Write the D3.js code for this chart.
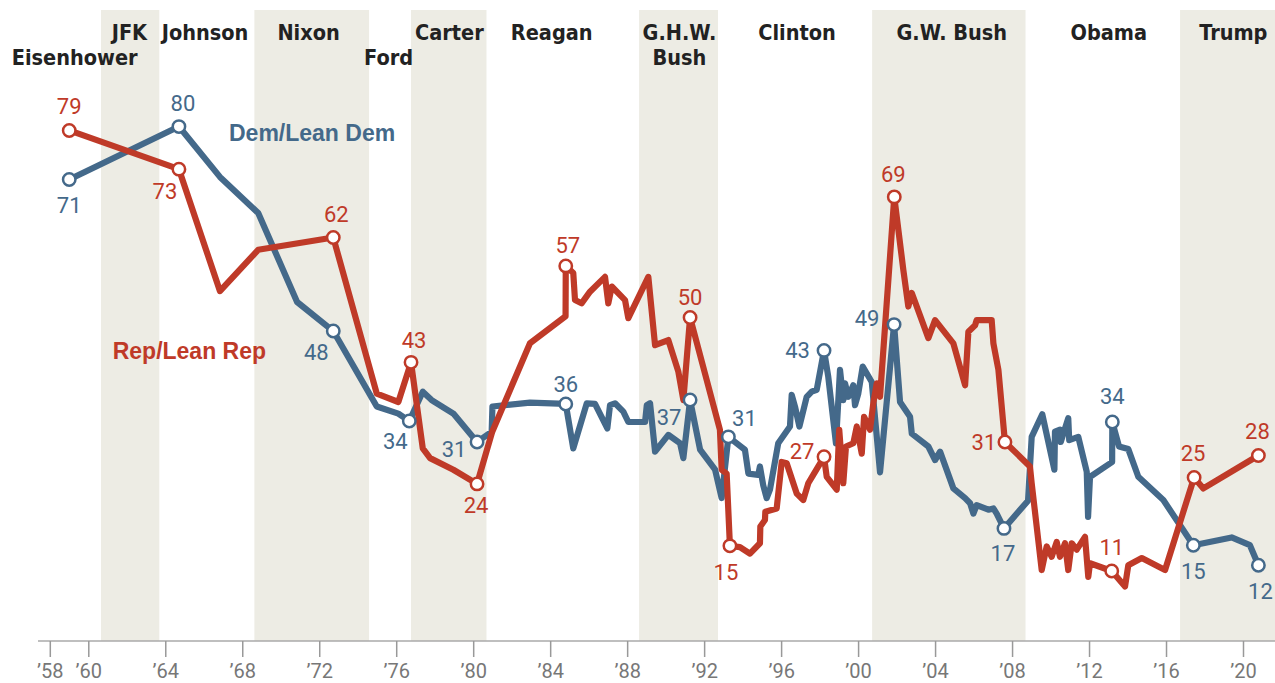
<!DOCTYPE html>
<html><head><meta charset="utf-8">
<script src="https://cdn.jsdelivr.net/npm/d3@7"></script>
<style>body{margin:0;background:#fff}svg{display:block}</style>
</head><body><svg id="c" width="1275" height="683"></svg>
<script>
// ---------- data ----------
const demYear=[1959.01,1964.71,1966.84,1968.83,1970.85,1972.73,1974.99,1976.11,1976.68,1977.38,1977.84,1978.97,1980.2,1980.96,1981.0,1982.95,1984.81,1985.2,1985.9,1986.33,1986.97,1987.11,1987.37,1987.8,1988.06,1988.93,1989.02,1989.19,1989.45,1990.14,1990.75,1990.92,1991.27,1991.79,1992.57,1992.91,1993.26,1994.12,1994.30,1994.81,1994.90,1995.07,1995.25,1995.42,1995.85,1996.46,1996.55,1996.72,1996.95,1997.33,1997.59,1997.85,1998.23,1998.45,1998.85,1999.06,1999.23,1999.32,1999.49,1999.75,1999.84,2000.01,2000.24,2000.71,2001.14,2001.87,2002.18,2002.70,2002.79,2003.65,2004.0,2004.26,2004.95,2005.56,2005.82,2005.99,2006.16,2006.77,2007.03,2007.20,2007.58,2008.83,2009.02,2009.57,2010.20,2010.23,2010.49,2010.53,2010.92,2010.97,2011.44,2011.88,2011.95,2012.05,2013.2,2013.21,2013.56,2014.04,2014.56,2015.86,2017.42,2017.94,2019.41,2020.36,2020.80];
const demValue=[71.4,79.6,71.8,66.2,52.4,47.9,36.2,35.1,33.95,38.5,37.2,35.1,30.7,32.3,36.2,36.8,36.6,29.7,36.7,36.6,32.8,36.4,36.7,35.4,33.8,33.8,36.4,36.7,29.2,31.8,30.5,28.2,37.2,29.5,26.4,22.0,31.5,29.5,25.8,25.6,26.9,24.0,22.0,23.3,30.5,33.1,38.0,36.2,33.1,37.7,38.5,38.8,44.9,40.8,30.5,41.9,37.2,39.8,37.7,39.5,36.4,38.2,42.4,40.0,26.0,48.9,36.9,34.6,32.0,30.0,27.9,29.2,23.5,22.0,21.2,19.6,20.9,20.2,20.4,19.6,17.3,21.6,31.5,35.0,26.4,32.3,32.6,30.7,34.4,31.0,31.5,26.1,19.1,25.3,27.6,33.8,30.0,29.6,25.3,21.7,14.7,15.0,15.9,14.7,11.6];

const repYear=[1959.01,1964.71,1966.84,1968.83,1972.73,1974.99,1976.11,1976.77,1977.38,1977.76,1978.97,1980.2,1980.99,1982.95,1984.8,1984.81,1985.2,1985.29,1985.63,1986.07,1986.85,1987.02,1987.2,1987.89,1988.06,1989.1,1989.45,1990.14,1990.66,1990.92,1991.27,1992.82,1992.91,1993.17,1993.34,1993.86,1994.38,1994.9,1994.92,1995.16,1995.18,1995.77,1996.03,1996.29,1996.81,1997.15,1997.41,1997.67,1998.23,1998.37,1998.89,1999.02,1999.23,1999.37,1999.75,1999.93,2000.19,2000.31,2000.62,2000.79,2000.97,2001.14,2001.88,2002.35,2002.61,2002.79,2003.65,2004.0,2004.95,2005.56,2005.73,2006.08,2006.16,2006.94,2007.03,2007.29,2007.63,2008.93,2009.02,2009.54,2009.8,2010.06,2010.32,2010.49,2010.75,2010.92,2011.1,2011.36,2011.79,2011.96,2012.05,2013.18,2013.87,2014.04,2014.74,2015.95,2017.46,2017.94,2020.8];
const repValue=[79.0,73.0,54.1,60.5,62.4,38.2,36.9,43.05,29.7,28.2,26.4,24.2,32.3,46.0,50.2,58.0,56.9,52.7,52.2,54.0,56.3,52.2,54.8,52.7,49.9,56.3,45.7,46.5,41.6,37.2,50.0,32.6,26.4,25.8,14.6,14.4,13.4,15.0,17.6,18.6,19.9,20.4,27.6,27.4,22.7,21.7,24.3,25.6,28.4,25.3,23.3,32.6,24.3,30.0,30.5,33.1,28.9,34.6,32.6,36.7,39.8,37.7,68.7,57.4,51.7,53.8,46.8,49.6,46.0,39.5,47.8,48.8,49.6,49.6,46.0,41.9,30.7,26.9,24.3,10.85,14.5,12.9,15.2,12.9,15.0,10.85,15.0,14.0,16.0,9.8,11.9,10.7,8.3,11.6,12.7,10.85,25.2,23.5,28.6];

// labelled points (year of marker, label text)
const demMarkYear=[1959.01,1964.71,1972.73,1976.68,1980.2,1984.81,1991.27,1993.26,1998.23,2001.87,2007.58,2013.21,2017.42,2020.80];
const demMarkText=["71","80","48","34","31","36","37","31","43","49","17","34","15","12"];
const repMarkYear=[1959.01,1964.71,1972.73,1976.77,1980.2,1984.81,1991.27,1993.34,1998.23,2001.88,2007.63,2013.18,2017.46,2020.8];
const repMarkText=["79","73","62","43","24","57","50","15","27","69","31","11","25","28"];

const presNames=["Eisenhower","JFK","Johnson","Nixon","Ford","Carter","Reagan","G.H.W.|Bush","Clinton","G.W. Bush","Obama","Trump"];
const presStart=[1955.0,1960.66,1963.69,1968.63,1974.59,1976.77,1980.69,1988.62,1992.72,2000.73,2008.70,2016.73];
const presEnd  =[1960.66,1963.69,1968.63,1974.59,1976.77,1980.69,1988.62,1992.72,2000.73,2008.70,2016.73,2021.7];
const presShaded=[false,true,false,true,false,true,false,true,false,true,false,true];

const tickYears=[1958,1960,1964,1968,1972,1976,1980,1984,1988,1992,1996,2000,2004,2008,2012,2016,2020];
const tickLabels=["’58","’60","’64","’68","’72","’76","’80","’84","’88","’92","’96","’00","’04","’08","’12","’16","’20"];

const seriesNames=["Dem/Lean Dem","Rep/Lean Rep"];

// ---------- layout / style ----------
const W=1275,H=683;
const BLUE="#44698a", RED="#bf3a28", BAND="#edece4";
const presLabelX=[74.7,129.4,205,308.6,388.6,449.4,551.7,679.4,797,951.8,1108.8,1233.4];
const presLabelRow=[2,1,1,1,2,1,1,1,1,1,1,1];
const demOff=[[0,26],[4,-24],[-17,21],[-14,20.5],[-23,7.5],[0,-20],[-21,17.5],[16,-19],[-26.5,0],[-27,-7],[-1,25],[0,-26],[0,26],[2,25.5]];
const repOff=[[0,-24],[-14,22],[3,-23],[3,-22],[-1,21],[2,-21],[0,-20],[-4,26],[-22,-6],[-1,-23],[-21,0],[0,-23.5],[-1,-24.5],[-1,-24.7]];

const svg=d3.select("#c");
const x=d3.scaleLinear().domain([1958,2020]).range([49.8,1243]);
const y=d3.scaleLinear().domain([0,80]).range([640,124]);
const AXIS_Y=641, BAND_TOP=10;

// bands
presNames.forEach((n,i)=>{
  if(!presShaded[i]) return;
  const x0=x(presStart[i]), x1=Math.min(W,x(presEnd[i]));
  svg.append("rect").attr("x",x0).attr("y",BAND_TOP).attr("width",x1-x0).attr("height",AXIS_Y-BAND_TOP).attr("fill",BAND);
});

// president labels
const presFont='"Liberation Sans Narrow","Arial Narrow","DejaVu Sans Condensed",sans-serif';
presNames.forEach((n,i)=>{
  const parts=n.split("|");
  const t=svg.append("text").attr("text-anchor","middle")
    .attr("font-family",presFont).attr("font-weight","bold").attr("font-size",21.5)
    .attr("fill","#222");
  const base=presLabelRow[i]===1?40:65;
  parts.forEach((p,j)=>{
    t.append("tspan").attr("x",presLabelX[i]).attr("y",base+j*25).text(p);
  });
});

// axis
svg.append("line").attr("x1",38).attr("x2",W).attr("y1",AXIS_Y).attr("y2",AXIS_Y).attr("stroke","#aaa").attr("stroke-width",1.5);
const ax=svg.append("g").attr("transform",`translate(0,${AXIS_Y})`)
  .call(d3.axisBottom(x).tickValues(tickYears).tickFormat((d,i)=>tickLabels[i]).tickSize(16).tickPadding(7));
ax.select(".domain").remove();
ax.selectAll(".tick line").attr("stroke","#999").attr("stroke-width",1.5);
ax.selectAll(".tick text").attr("font-family","Roboto, 'Liberation Sans', sans-serif").attr("font-size",20).attr("fill","#777");

// lines
const line=d3.line().x(d=>x(d[0])).y(d=>y(d[1]));
const demData=demYear.map((yy,i)=>[yy,demValue[i]]);
const repData=repYear.map((yy,i)=>[yy,repValue[i]]);
svg.append("path").attr("d",line(demData)).attr("fill","none").attr("stroke",BLUE).attr("stroke-width",6.2).attr("stroke-linejoin","round").attr("stroke-linecap","round");
svg.append("path").attr("d",line(repData)).attr("fill","none").attr("stroke",RED).attr("stroke-width",6.2).attr("stroke-linejoin","round").attr("stroke-linecap","round");

// markers & labels
function marks(years,vals,markYears,texts,offs,color){
  markYears.forEach((my,i)=>{
    const idx=years.indexOf(my);
    const cx=x(my), cy=y(vals[idx]);
    svg.append("circle").attr("cx",cx).attr("cy",cy).attr("r",6.2).attr("fill","#fff").attr("stroke",color).attr("stroke-width",2.5);
    svg.append("text").attr("x",cx+offs[i][0]).attr("y",cy+offs[i][1]).attr("dy","0.36em")
      .attr("text-anchor","middle").attr("font-family","Roboto, 'Liberation Sans', sans-serif")
      .attr("font-size",22).attr("fill",color).text(texts[i]);
  });
}
marks(demYear,demValue,demMarkYear,demMarkText,demOff,BLUE);
marks(repYear,repValue,repMarkYear,repMarkText,repOff,RED);

// series labels
svg.append("text").attr("x",229).attr("y",141).attr("font-family","'Liberation Sans',Arial,sans-serif").attr("font-weight","bold").attr("font-size",23).attr("fill",BLUE).text(seriesNames[0]);
svg.append("text").attr("x",112.7).attr("y",359).attr("font-family","'Liberation Sans',Arial,sans-serif").attr("font-weight","bold").attr("font-size",23).attr("fill",RED).text(seriesNames[1]);
</script></body></html>
